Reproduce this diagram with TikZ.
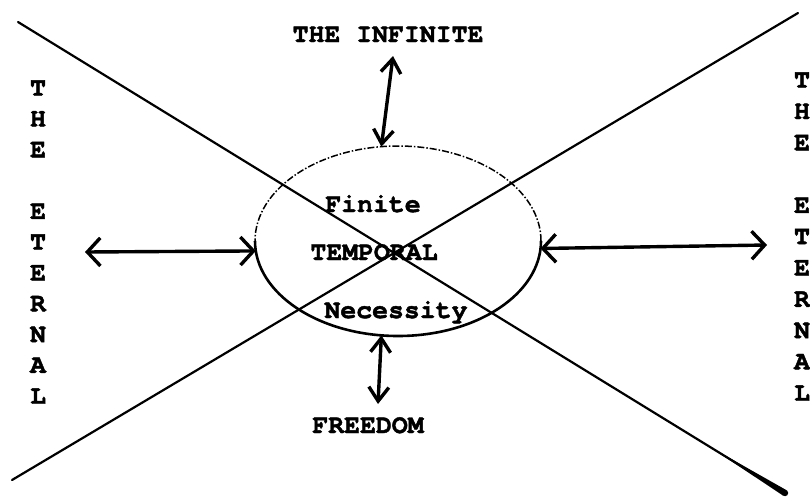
\documentclass[tikz,border=0pt]{standalone}
\usepackage{fontspec}
\setmainfont{TeX Gyre Cursor}[BoldFeatures={FakeBold=1.6}]
\usetikzlibrary{arrows.meta,shapes.geometric,calc}
\begin{document}
\begin{tikzpicture}[x=1pt,y=-1pt,
  lbl/.style={font=\fontsize{26.5}{26.5}\selectfont\bfseries, inner sep=0pt, anchor=base},
  colL/.style={font=\fontsize{26.5}{30.8}\selectfont\bfseries, align=center, inner sep=0pt},
  colR/.style={font=\fontsize{26.5}{31.3}\selectfont\bfseries, align=center, inner sep=0pt},
  crossline/.style={line width=2.2pt, line cap=round},
  ellbot/.style={line width=2.6pt},
  elltop/.style={line width=1.5pt, dash pattern=on 7pt off 2pt on 1.5pt off 2pt},
  varrow/.style={line width=3.4pt, line cap=round, {Straight Barb[length=14pt,width=20pt]}-{Straight Barb[length=14pt,width=20pt]}},
  harrow/.style={line width=3.4pt, line cap=round, {Straight Barb[length=13pt,width=28pt]}-{Straight Barb[length=13pt,width=28pt]}}]
\useasboundingbox (0,0) rectangle (810,496);
\fill[white] (0,0) rectangle (810,496);

% cross lines
\coordinate (a1) at (18,22);
\coordinate (a2) at (785,493);
\coordinate (b1) at (12,480);
\coordinate (b2) at (798,13);
\draw[crossline] (a1) -- (a2);
\draw[crossline] (b1) -- (b2);
\fill[line join=round] ($(a1)!0.9!(a2)$) -- ($(a2)!3.2pt!90:(a1)$) -- ($(a2)!3.2pt!-90:(a1)$) -- cycle;
\fill (a2) circle[radius=3.2pt];

% ellipse
\node[ellipse, minimum width=286pt, minimum height=190pt, inner sep=0pt, outer sep=0pt] (ell) at (398,241) {};
\draw[ellbot] (ell.west) arc[start angle=180, end angle=360, x radius=143pt, y radius=95pt];
\draw[elltop] (ell.east) arc[start angle=0, end angle=180, x radius=143pt, y radius=95pt];

% texts
\node[lbl] (inf) at (388,42) {THE INFINITE};
\node[lbl] (fin) at (373,212) {Finite};
\node[lbl] (tmp) at (374,260) {TEMPORAL};
\node[lbl] (nec) at (396,318) {Necessity};
\node[lbl] (fre) at (368,433) {FREEDOM};
\node[colL] (etL) at (38,242) {T\\H\\E\\~\\E\\T\\E\\R\\N\\A\\L};
\node[colR] (etR) at (802,236.5) {T\\H\\E\\~\\E\\T\\E\\R\\N\\A\\L};

% arrows
\coordinate (upT) at (393,56);
\coordinate (dnB) at (378,404);
\coordinate (lfL) at (85,252);
\coordinate (rtR) at (767,245);
\draw[varrow] (upT) -- (ell.100);
\draw[varrow] (ell.260) -- (dnB);
\draw[harrow] (lfL) -- (ell.184);
\draw[harrow] (ell.357) -- (rtR);
\end{tikzpicture}
\end{document}
